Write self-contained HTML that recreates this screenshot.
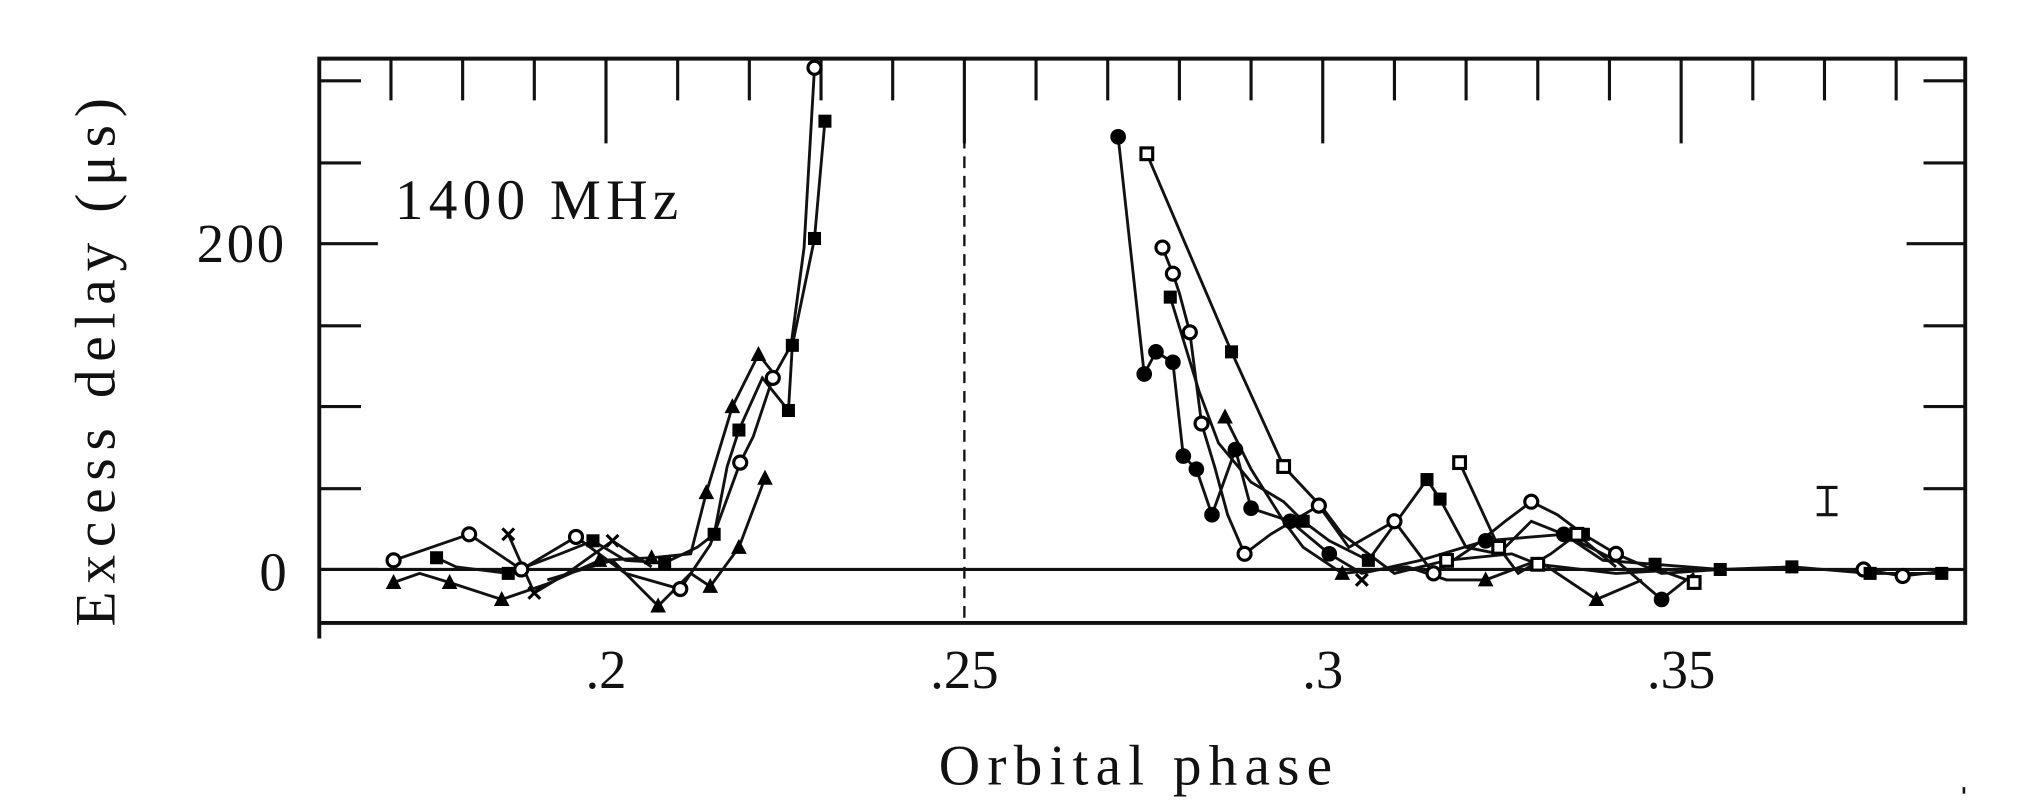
<!DOCTYPE html>
<html><head><meta charset="utf-8"><style>
html,body{margin:0;padding:0;background:#fff;}
svg{display:block;}
text{font-family:"Liberation Serif",serif;fill:#111;}
</style></head><body>
<svg width="2033" height="806" viewBox="0 0 1560 618.5" preserveAspectRatio="none" xmlns="http://www.w3.org/2000/svg">
<defs>
<g id="fc"><circle r="6" fill="#000"/></g>
<g id="oc"><circle r="5" fill="#fff" stroke="#000" stroke-width="2.4"/></g>
<g id="fs"><rect x="-5" y="-5" width="10" height="10" fill="#000"/></g>
<g id="os"><rect x="-4.5" y="-4.5" width="9" height="9" fill="#fff" stroke="#000" stroke-width="2.4"/></g>
<g id="ft"><path d="M0,-6.5 L6,5 L-6,5Z" fill="#000"/></g>
<g id="cx"><path d="M-4.5,-4.5 L4.5,4.5 M4.5,-4.5 L-4.5,4.5" stroke="#000" stroke-width="2.4"/></g>
</defs>
<g stroke="#111" fill="none">
<path d="M245,45 H1508 V478 H245 Z M245,478 V490" stroke-width="3"/>
<line x1="245" y1="437" x2="1508" y2="437" stroke-width="2.4"/>
<line x1="740" y1="45" x2="740" y2="478" stroke-width="1.8" stroke-dasharray="9,6"/>
<g stroke-width="2.4">
<path d="M300,45v32 M355,45v32 M410,45v32 M520,45v32 M575,45v32 M630,45v32 M685,45v32 M795,45v32 M850,45v32 M905,45v32 M960,45v32 M1070,45v32 M1125,45v32 M1180,45v32 M1235,45v32 M1345,45v32 M1400,45v32 M1455,45v32"/>
<path d="M465,45v65 M740,45v65 M1015,45v65 M1290,45v65"/>
<path d="M245,62h32 M245,125h32 M245,187h45 M245,250h32 M245,312h32 M245,375h32 M245,437h45"/>
<path d="M1508,62h-32 M1508,125h-32 M1508,187h-45 M1508,250h-32 M1508,312h-32 M1508,375h-32"/>
</g>
<g stroke-width="2.2">
<polyline points="335,428 350,435 390,440 430,425 455,415 480,430 510,432 535,420 548,410 558,358 567,330 585,290 605,315 608,265 625,183 633,93"/>
<polyline points="302,447 322,440 345,447 385,460 420,448 460,430 500,428 530,425 542,378 562,312 582,272 598,292"/>
<polyline points="302,430 360,410 400,437 442,412 480,440 522,452 545,418 568,355 578,335 593,290 607,265 617,190 625,52"/>
<polyline points="420,445 470,430 505,465 530,440 545,450 567,420 587,367"/>
<polyline points="390,410 410,455 435,440 470,415 500,435"/>
<polyline points="858,105 878,287 887,270 900,278 908,350 918,360 930,395 948,345 960,390 990,400 1020,425 1045,440 1090,430 1140,415 1200,410 1240,430 1275,460 1300,440"/>
<polyline points="880,118 945,270 985,358 1015,390 1030,410 1070,440 1110,430 1160,425 1180,433 1240,440 1275,438 1300,447"/>
<polyline points="892,190 900,210 905,225 913,255 922,325 932,358 942,395 955,425 975,410 1012,388 1035,420 1070,400 1100,440 1130,420 1155,400 1175,385 1195,395 1215,410 1240,425 1275,440 1320,437 1380,437 1430,437 1460,442 1495,438"/>
<polyline points="898,228 920,300 935,340 960,370 985,385 1000,400 1020,415 1050,430 1095,368 1105,383 1125,420 1150,425 1175,400 1200,410 1230,430 1270,433 1320,437 1375,435 1435,440 1490,440"/>
<polyline points="940,320 960,360 985,400 1000,420 1030,440 1080,435 1110,445 1140,445 1180,430 1225,460 1260,445"/>
<polyline points="1120,355 1150,420 1165,440 1190,425 1210,410 1240,435"/>
</g>
<path d="M1402,374V395 M1394,374h16 M1394,395h16" stroke-width="2.4"/>
</g>
<g>
<use href="#fs" x="335" y="428"/><use href="#fs" x="390" y="440"/><use href="#fs" x="455" y="415"/><use href="#fs" x="510" y="432"/><use href="#fs" x="548" y="410"/><use href="#fs" x="567" y="330"/><use href="#fs" x="605" y="315"/><use href="#fs" x="608" y="265"/><use href="#fs" x="625" y="183"/><use href="#fs" x="633" y="93"/>
<use href="#ft" x="302" y="447"/><use href="#ft" x="345" y="447"/><use href="#ft" x="385" y="460"/><use href="#ft" x="460" y="430"/><use href="#ft" x="500" y="428"/><use href="#ft" x="542" y="378"/><use href="#ft" x="562" y="312"/><use href="#ft" x="582" y="272"/>
<use href="#oc" x="302" y="430"/><use href="#oc" x="360" y="410"/><use href="#oc" x="400" y="437"/><use href="#oc" x="442" y="412"/><use href="#oc" x="522" y="452"/><use href="#oc" x="568" y="355"/><use href="#oc" x="593" y="290"/><use href="#oc" x="625" y="52"/>
<use href="#ft" x="505" y="465"/><use href="#ft" x="545" y="450"/><use href="#ft" x="567" y="420"/><use href="#ft" x="587" y="367"/>
<use href="#cx" x="390" y="410"/><use href="#cx" x="410" y="455"/><use href="#cx" x="470" y="415"/>
<use href="#fc" x="858" y="105"/><use href="#fc" x="878" y="287"/><use href="#fc" x="887" y="270"/><use href="#fc" x="900" y="278"/><use href="#fc" x="908" y="350"/><use href="#fc" x="918" y="360"/><use href="#fc" x="930" y="395"/><use href="#fc" x="948" y="345"/><use href="#fc" x="960" y="390"/><use href="#fc" x="990" y="400"/><use href="#fc" x="1020" y="425"/><use href="#fc" x="1140" y="415"/><use href="#fc" x="1200" y="410"/><use href="#fc" x="1275" y="460"/>
<use href="#os" x="880" y="118"/><use href="#os" x="985" y="358"/><use href="#os" x="1110" y="430"/><use href="#os" x="1180" y="433"/><use href="#os" x="1300" y="447"/>
<use href="#oc" x="892" y="190"/><use href="#oc" x="900" y="210"/><use href="#oc" x="913" y="255"/><use href="#oc" x="922" y="325"/><use href="#oc" x="955" y="425"/><use href="#oc" x="1012" y="388"/><use href="#oc" x="1070" y="400"/><use href="#oc" x="1100" y="440"/><use href="#oc" x="1175" y="385"/><use href="#oc" x="1240" y="425"/><use href="#oc" x="1430" y="437"/><use href="#oc" x="1460" y="442"/>
<use href="#fs" x="898" y="228"/><use href="#fs" x="945" y="270"/><use href="#fs" x="1000" y="400"/><use href="#fs" x="1050" y="430"/><use href="#fs" x="1095" y="368"/><use href="#fs" x="1105" y="383"/><use href="#fs" x="1215" y="410"/><use href="#fs" x="1270" y="433"/><use href="#fs" x="1320" y="437"/><use href="#fs" x="1375" y="435"/><use href="#fs" x="1435" y="440"/><use href="#fs" x="1490" y="440"/>
<use href="#ft" x="940" y="320"/><use href="#ft" x="1030" y="440"/><use href="#ft" x="1140" y="445"/><use href="#ft" x="1225" y="460"/>
<use href="#os" x="1120" y="355"/><use href="#os" x="1150" y="420"/><use href="#os" x="1210" y="410"/>
<use href="#cx" x="1045" y="445"/>
</g>
<text x="303" y="168" font-size="44" letter-spacing="4">1400 MHz</text>
<text x="220" y="201" font-size="42" text-anchor="end" letter-spacing="2">200</text>
<text x="220" y="453" font-size="42" text-anchor="end">0</text>
<text x="465" y="528" font-size="42" text-anchor="middle">.2</text>
<text x="740" y="528" font-size="42" text-anchor="middle">.25</text>
<text x="1015" y="528" font-size="42" text-anchor="middle">.3</text>
<text x="1290" y="528" font-size="42" text-anchor="middle">.35</text>
<text x="874" y="602" font-size="44" text-anchor="middle" letter-spacing="5.5">Orbital phase</text>
<text transform="translate(88,275) rotate(-90)" font-size="44" text-anchor="middle" letter-spacing="6">Excess delay (μs)</text>
<rect x="1506" y="604" width="2" height="5" fill="#111"/>
</svg>
</body></html>
